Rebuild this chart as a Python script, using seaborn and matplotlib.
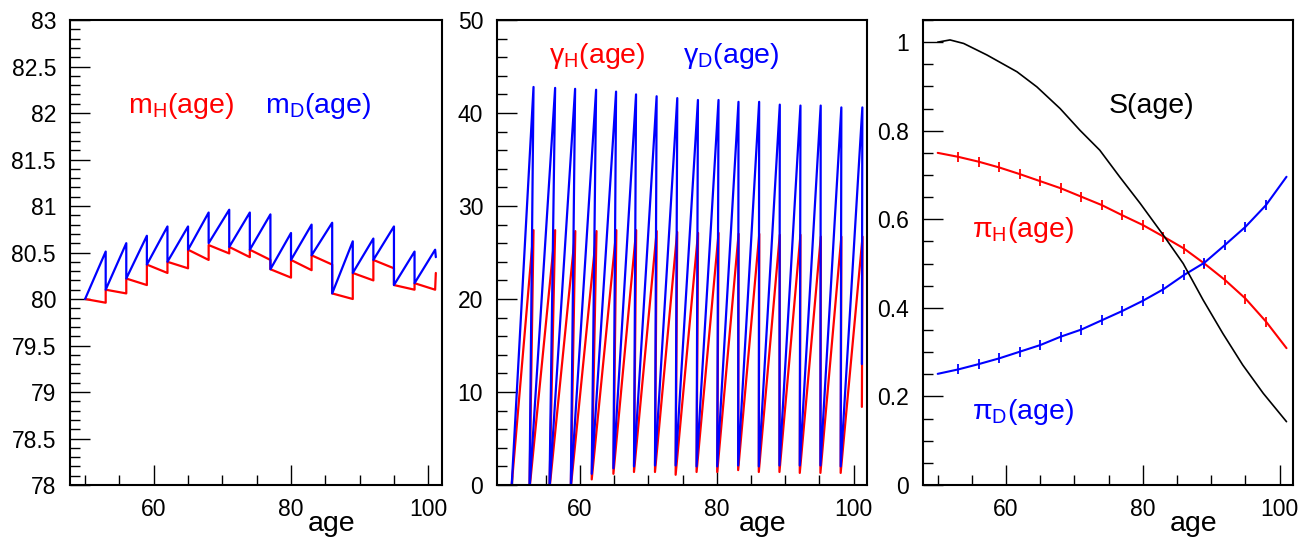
import matplotlib
matplotlib.use('Agg')
import matplotlib.pyplot as plt
from matplotlib.ticker import MultipleLocator, FuncFormatter
import seaborn as sns

# ---- data ----
# panel 1: m_H(age), m_D(age)
mD_age = [50, 53, 53, 56, 56, 59, 59, 62, 62, 65, 65, 68, 68, 71, 71, 74, 74, 77, 77,
          80, 80, 83, 83, 86, 86, 89, 89, 92, 92, 95, 95, 98, 98, 101, 101.1]
mD_val = [80.00, 80.51, 80.10, 80.60, 80.22, 80.68, 80.37, 80.78, 80.40, 80.78, 80.53,
          80.93, 80.60, 80.96, 80.56, 80.93, 80.53, 80.91, 80.32, 80.71, 80.42, 80.80,
          80.47, 80.82, 80.06, 80.62, 80.28, 80.65, 80.42, 80.78, 80.15, 80.51, 80.17,
          80.53, 80.45]
mH_age = [50, 53, 53, 56, 56, 59, 59, 62, 62, 65, 65, 68, 68, 71, 71, 74, 74, 77, 77,
          80, 80, 83, 83, 86, 86, 89, 89, 92, 92, 95, 95, 98, 98, 101, 101.1]
mH_val = [80.00, 79.96, 80.10, 80.06, 80.22, 80.15, 80.37, 80.28, 80.40, 80.33, 80.53,
          80.42, 80.58, 80.49, 80.56, 80.45, 80.53, 80.42, 80.32, 80.23, 80.42, 80.31,
          80.47, 80.37, 80.06, 80.00, 80.28, 80.20, 80.42, 80.33, 80.15, 80.10, 80.17,
          80.10, 80.28]

# panel 2: gamma_H(age), gamma_D(age)
gD_age = [50.0, 53.19, 52.6, 56.35, 55.52, 59.27, 58.64, 62.34, 61.70, 65.26, 64.87,
          68.18, 67.88, 71.19, 70.95, 74.21, 73.97, 77.23, 77.03, 80.24, 80.05, 83.16,
          83.11, 86.18, 86.13, 89.20, 89.15, 92.22, 92.12, 95.18, 95.14, 98.20, 98.10,
          101.27, 101.2]
gD_val = [0.0, 42.8, -0.5, 42.7, -0.5, 42.6, -0.3, 42.5, 1.2, 42.3, 1.8, 42.0, 2.0,
          41.8, 2.1, 41.6, 2.1, 41.4, 2.0, 41.4, 2.0, 41.2, 2.1, 41.2, 2.0, 40.9, 2.1,
          40.8, 2.1, 40.8, 2.1, 40.6, 2.0, 40.6, 13.0]
gH_age = [50.0, 53.19, 52.6, 56.35, 55.52, 59.30, 58.64, 62.40, 61.70, 65.30, 64.87,
          68.20, 67.88, 71.20, 70.95, 74.20, 73.97, 77.25, 77.03, 80.25, 80.05, 83.18,
          83.11, 86.20, 86.13, 89.20, 89.15, 92.22, 92.12, 95.20, 95.14, 98.20, 98.10,
          101.30, 101.2]
gH_val = [0.0, 27.4, -0.5, 27.4, -0.5, 27.3, -0.3, 27.3, 0.6, 27.4, 1.2, 27.4, 1.4,
          27.3, 1.4, 27.2, 1.1, 27.1, 1.4, 27.1, 1.4, 27.0, 1.6, 27.0, 1.4, 26.9, 1.4,
          26.9, 1.3, 26.7, 1.3, 26.7, 1.3, 26.7, 8.4]

# panel 3: S(age), pi_H(age), pi_D(age)
pi_age = [50, 53, 56, 59, 62, 65, 68, 71, 74, 77, 80, 83, 86, 89, 92, 95, 98, 101]
piH_val = [0.750, 0.741, 0.730, 0.717, 0.702, 0.686, 0.670, 0.651, 0.632, 0.609,
           0.587, 0.561, 0.534, 0.500, 0.463, 0.421, 0.369, 0.309]
piD_val = [0.251, 0.261, 0.273, 0.286, 0.301, 0.316, 0.335, 0.351, 0.372, 0.393,
           0.416, 0.442, 0.474, 0.502, 0.542, 0.583, 0.632, 0.696]
S_age = [50, 51.8, 53.8, 57.2, 61.6, 64.5, 67.9, 70.8, 73.7, 76.6, 79.6, 83.0, 85.9,
         88.8, 91.7, 94.6, 97.6, 101.0]
S_val = [1.000, 1.005, 0.997, 0.971, 0.933, 0.899, 0.850, 0.801, 0.756, 0.696, 0.636,
         0.564, 0.500, 0.418, 0.342, 0.271, 0.207, 0.143]

# ---- style ----
sns.set_style('white')
plt.rcParams['font.family'] = ['Liberation Sans', 'DejaVu Sans']
plt.rcParams['mathtext.fontset'] = 'custom'
plt.rcParams['mathtext.rm'] = 'Liberation Sans'
plt.rcParams['mathtext.it'] = 'Liberation Sans:italic'
plt.rcParams['text.color'] = 'black'

fig = plt.figure(figsize=(13.14, 5.4), dpi=100)
W, H = 1314, 540
def add_axes(left_px, right_px):
    return fig.add_axes([left_px / W, 1 - 485 / H, (right_px - left_px) / W, 465 / H])

ax1 = add_axes(70, 442)
ax2 = add_axes(497, 867)
ax3 = add_axes(923, 1293)

fmt = FuncFormatter(lambda v, p: '%g' % round(v, 3))
TXT = 20.5

def style(ax, ylim, ymaj, ymin, xlim):
    ax.set_xlim(*xlim)
    ax.set_ylim(*ylim)
    ax.xaxis.set_major_locator(MultipleLocator(20))
    ax.xaxis.set_minor_locator(MultipleLocator(5))
    ax.yaxis.set_major_locator(MultipleLocator(ymaj))
    ax.yaxis.set_minor_locator(MultipleLocator(ymin))
    ax.yaxis.set_major_formatter(fmt)
    ax.tick_params(which='both', direction='in', top=False, right=False,
                   bottom=True, left=True, labelsize=16.5, color='black',
                   labelcolor='black')
    ax.tick_params(which='major', length=14.5, width=1.0)
    ax.tick_params(which='minor', length=7.2, width=1.0)
    ax.tick_params(axis='y', which='major', pad=10)
    ax.tick_params(axis='x', which='major', pad=9)
    for s in ax.spines.values():
        s.set_visible(True)
        s.set_color('black')
        s.set_linewidth(1.5)
    ax.set_xlabel('')
    ax.set_ylabel('')

# panel 1
sns.lineplot(x=mH_age, y=mH_val, ax=ax1, color='#ff0000', linewidth=1.6,
             estimator=None, sort=False)
sns.lineplot(x=mD_age, y=mD_val, ax=ax1, color='#0000ff', linewidth=1.6,
             estimator=None, sort=False)
style(ax1, (78, 83), 0.5, 0.1, (47.8, 102.0))
ax1.text(0.156, 0.80, r'm$_{\mathrm{H}}$(age)', color='#ff0000', fontsize=TXT,
         transform=ax1.transAxes, va='baseline')
ax1.text(0.524, 0.80, r'm$_{\mathrm{D}}$(age)', color='#0000ff', fontsize=TXT,
         transform=ax1.transAxes, va='baseline')
ax1.text(0.703, -0.099, 'age', fontsize=TXT, ha='center', va='baseline',
         color='black', transform=ax1.transAxes)

# panel 2
sns.lineplot(x=gH_age, y=gH_val, ax=ax2, color='#ff0000', linewidth=1.6,
             estimator=None, sort=False)
sns.lineplot(x=gD_age, y=gD_val, ax=ax2, color='#0000ff', linewidth=1.6,
             estimator=None, sort=False)
style(ax2, (0, 50), 10, 2, (47.85, 101.95))
ax2.text(0.14, 0.9075, 'γ$_{\\mathrm{H}}$(age)', color='#ff0000', fontsize=TXT,
         transform=ax2.transAxes, va='baseline')
ax2.text(0.503, 0.9075, 'γ$_{\\mathrm{D}}$(age)', color='#0000ff', fontsize=TXT,
         transform=ax2.transAxes, va='baseline')
ax2.text(0.719, -0.099, 'age', fontsize=TXT, ha='center', va='baseline',
         color='black', transform=ax2.transAxes)

# panel 3
inner = list(range(1, len(pi_age) - 1))
sns.lineplot(x=pi_age, y=piH_val, ax=ax3, color='#ff0000', linewidth=1.5,
             estimator=None, sort=False, marker='|', markersize=7,
             markeredgewidth=1.3, markeredgecolor='#ff0000', markevery=inner)
sns.lineplot(x=pi_age, y=piD_val, ax=ax3, color='#0000ff', linewidth=1.5,
             estimator=None, sort=False, marker='|', markersize=7,
             markeredgewidth=1.3, markeredgecolor='#0000ff', markevery=inner)
sns.lineplot(x=S_age, y=S_val, ax=ax3, color='black', linewidth=1.2,
             estimator=None, sort=False)
style(ax3, (0, 1.05), 0.2, 0.05, (47.85, 101.95))
ax3.text(0.503, 0.80, 'S(age)', color='black', fontsize=TXT,
         transform=ax3.transAxes, va='baseline')
ax3.text(0.132, 0.534, 'π$_{\\mathrm{H}}$(age)', color='#ff0000', fontsize=TXT,
         transform=ax3.transAxes, va='baseline')
ax3.text(0.132, 0.143, 'π$_{\\mathrm{D}}$(age)', color='#0000ff', fontsize=TXT,
         transform=ax3.transAxes, va='baseline')
ax3.text(0.731, -0.099, 'age', fontsize=TXT, ha='center', va='baseline',
         color='black', transform=ax3.transAxes)

fig.savefig('out.png', dpi=100)
